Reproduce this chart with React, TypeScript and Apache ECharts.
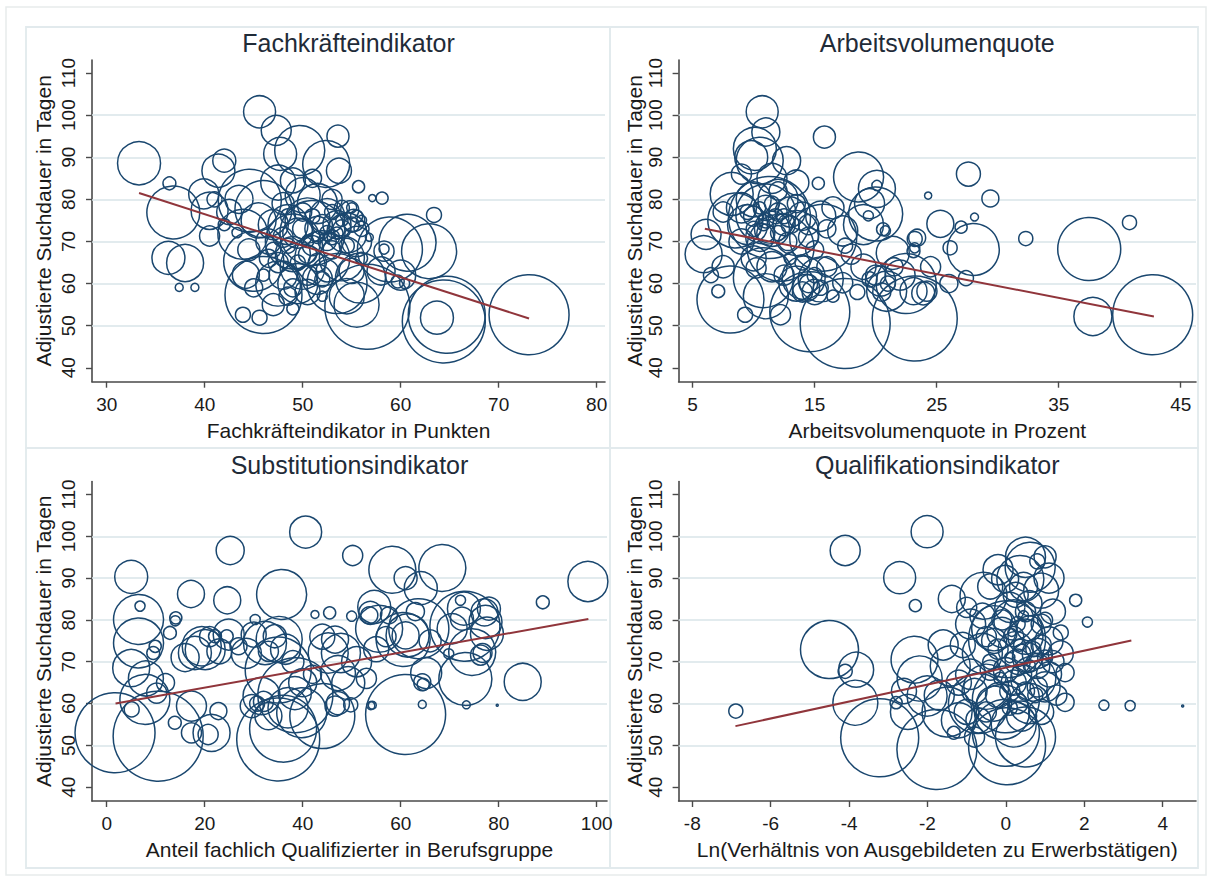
import React, { useEffect, useRef } from "react";
import * as echarts from "echarts";

// [x, adjustierte Suchdauer in Tagen, Gewicht der Berufsgruppe]
type Punkt = [number, number, number];

const suchdauerTicks = [40, 50, 60, 70, 80, 90, 100, 110];
const gitterWerte = [50, 60, 70, 80, 90, 100];

const fachkraefteTicks = [30, 40, 50, 60, 70, 80];
const arbeitsvolumenTicks = [5, 15, 25, 35, 45];
const substitutionTicks = [0, 20, 40, 60, 80, 100];
const qualifikationTicks = [-8, -6, -4, -2, 0, 2, 4];

const fachkraefteDaten: Punkt[] = [
  [33.3, 88.6, 28.9], [36.4, 83.8, 2.6], [36.8, 76.9, 43.9], [36.3, 66.1, 17.0], [38.0, 64.9, 21.4],
  [37.4, 59.1, 1.0], [39.0, 59.1, 1.0], [42.0, 89.2, 8.3], [41.4, 86.8, 17.0], [39.9, 81.3, 14.1],
  [40.5, 77.3, 21.4], [40.5, 71.3, 6.3], [43.3, 72.1, 1.6], [45.6, 100.8, 16.0], [47.3, 96.4, 14.1],
  [47.7, 90.8, 17.0], [49.7, 91.6, 39.1], [53.6, 95.0, 7.6], [52.4, 88.4, 34.5], [53.7, 86.8, 9.8],
  [44.6, 79.7, 62.0], [46.0, 77.7, 50.8], [43.9, 71.7, 39.1], [45.0, 65.3, 56.3], [46.0, 57.3, 92.6],
  [43.9, 52.6, 3.5], [45.6, 51.9, 3.5], [44.2, 62.1, 11.4], [73.1, 52.6, 100], [64.4, 51.0, 107.6],
  [64.7, 52.6, 92.6], [63.7, 51.9, 17.0], [63.4, 76.3, 3.5], [62.9, 67.7, 47.3], [60.7, 69.7, 50.8],
  [56.6, 54.5, 112.9], [58.3, 67.7, 6.3], [58.3, 68.2, 1.6], [59.7, 60.5, 2.6], [55.7, 83.0, 2.3],
  [58.1, 80.3, 2.3], [57.1, 80.3, 0.8], [58.9, 68.1, 66.0], [55.9, 61.3, 39.1], [60.4, 60.0, 1.6],
  [48.5, 74, 25.0], [49.5, 72, 14.1], [50.5, 75, 31.6], [51.5, 73, 9.8], [52.5, 76, 19.1],
  [53.5, 74, 12.3], [54.5, 72, 25.0], [55.2, 75, 7.6], [54.8, 77.5, 5.1], [53.0, 71, 3.5],
  [51.0, 69, 6.3], [49.0, 67, 19.1], [50.0, 64, 31.6], [48.0, 62, 12.3], [49.5, 60, 25.0],
  [51.5, 61, 14.1], [52.5, 63, 7.6], [50.5, 58, 9.8], [48.5, 57, 5.1], [47.5, 65, 6.3],
  [46.5, 70, 9.8], [47.0, 74, 14.1], [48.0, 79, 7.6], [50.0, 81, 19.1], [51.5, 79, 25.0],
  [53.0, 80, 6.3], [55.5, 70, 14.1], [54.0, 66, 31.6], [52.0, 66, 47.3], [53.5, 60, 56.3],
  [55.0, 63, 9.8], [49.0, 70, 47.3], [51.0, 72, 66.0], [47.5, 60, 31.6], [45.5, 75, 19.1],
  [44.5, 68, 7.6], [46.0, 62, 2.3], [45.0, 59, 5.1], [47.0, 55, 7.6], [49.0, 54, 2.3],
  [52.0, 57, 1.6], [54.5, 57, 19.1], [56.0, 73, 3.5], [55.0, 78, 1.6], [50.5, 70, 2.3],
  [48.5, 76, 3.5], [52.5, 70, 5.1], [54.0, 75, 2.3], [42.5, 77, 9.8], [41.0, 80, 3.5],
  [43.5, 80, 12.3], [42.0, 74, 2.3], [47.5, 84, 19.1], [49.0, 84.5, 9.8], [51.0, 85, 5.1],
  [56.8, 71, 1.0], [56.0, 66, 2.3], [58.0, 63, 12.3], [60.0, 62, 14.1], [55.5, 55, 31.6],
  [50.0, 73, 6.3], [51.0, 76, 3.5], [52.0, 74, 6.3], [53.0, 77, 3.5], [54.0, 73, 5.1],
  [55.0, 74, 3.5], [53.5, 72, 2.3], [52.5, 72, 3.5], [51.5, 71, 2.3], [50.5, 67, 5.1],
  [49.5, 65, 3.5], [48.5, 69, 3.5], [51.5, 65, 5.1], [52.0, 61, 3.5], [50.5, 62, 6.3],
  [49.0, 59, 5.1], [48.0, 71, 6.3], [47.0, 68, 3.5], [46.5, 66, 5.1], [53.0, 68, 5.1],
  [54.5, 69, 3.5], [55.5, 76, 2.3], [54.0, 78, 3.5], [56.0, 75, 1.6], [50.0, 77, 5.1],
];

const arbeitsvolumenDaten: Punkt[] = [
  [10.7, 100.8, 16.0], [11.0, 96.0, 12.3], [15.8, 94.8, 7.6], [10.1, 92.0, 28.9], [9.8, 90.0, 17.0],
  [12.7, 89.2, 12.3], [10.5, 89.2, 34.5], [18.6, 85.3, 39.1], [20.1, 82.5, 21.4], [20.1, 83.3, 1.6],
  [15.3, 83.8, 2.3], [24.3, 80.9, 0.8], [8.2, 81.3, 28.9], [6.1, 71.7, 14.1], [5.9, 67.0, 21.4],
  [8.1, 56.2, 70.1], [7.1, 58.2, 2.6], [9.3, 52.6, 3.5], [11.3, 75.7, 105], [11.0, 76.5, 56.3],
  [12.2, 68.5, 70.1], [10.2, 63.7, 6.3], [10.8, 61.4, 56.3], [12.2, 52.6, 6.3], [14.3, 59.0, 11.4],
  [14.1, 61.4, 28.9], [14.6, 53.3, 100], [17.5, 50.5, 126.6], [23.2, 51.7, 112.9], [37.5, 68.2, 62.0],
  [37.8, 52.2, 22.6], [42.7, 52.6, 100], [40.8, 74.5, 3.1], [32.3, 70.7, 3.1], [27.6, 86.0, 9.0],
  [29.4, 80.2, 4.5], [28.1, 75.8, 1.0], [25.3, 74.2, 11.4], [27.0, 73.4, 2.3], [28.0, 68.1, 42.3],
  [26.1, 68.5, 3.1], [27.4, 61.3, 3.5], [23.2, 70.6, 3.5], [23.2, 68.5, 1.6], [23.9, 57.7, 8.3],
  [19.5, 79.0, 14.1], [20.0, 76.5, 45.6], [20.8, 72.5, 1.6], [17.3, 60.2, 6.3], [20.4, 60.6, 14.1],
  [20.9, 58.2, 25.0], [23.1, 58.2, 11.4], [24.2, 58.2, 6.3], [15.7, 70.9, 70.1], [17.3, 72.5, 14.1],
  [20.6, 72.9, 2.6], [23.4, 70.9, 4.5], [23.1, 67.7, 2.6], [21.4, 67.3, 17.0], [19.0, 74.0, 25.0],
  [19.4, 76.1, 1.6], [9.0, 78, 14.1], [10.0, 80, 19.1], [11.0, 78, 9.8], [12.0, 80, 25.0],
  [13.0, 77, 14.1], [12.5, 74, 7.6], [11.5, 73, 19.1], [10.5, 71, 12.3], [9.5, 74, 25.0],
  [9.0, 70, 9.8], [13.5, 72, 31.6], [14.0, 76, 12.3], [11.8, 76, 3.5], [10.8, 74, 2.3],
  [12.8, 70, 5.1], [14.5, 74, 6.3], [15.5, 76, 14.1], [16.5, 78, 7.6], [16.0, 73, 5.1],
  [8.5, 75, 47.3], [7.5, 77, 6.3], [10.0, 66, 9.8], [11.5, 64, 14.1], [12.5, 62, 6.3],
  [13.5, 60, 19.1], [15.0, 58, 9.8], [15.5, 61, 31.6], [16.0, 64, 6.3], [14.0, 65, 3.5],
  [13.0, 66, 2.3], [12.0, 82, 5.1], [11.5, 85, 14.1], [13.5, 84, 9.8], [9.0, 86, 6.3],
  [18.0, 67, 6.3], [17.5, 69, 3.5], [19.0, 64, 9.8], [22.0, 62, 14.1], [21.5, 64, 5.1],
  [18.5, 58, 3.5], [16.5, 57, 2.3], [7.5, 64, 7.6], [6.5, 62, 3.5], [24.5, 64, 6.3],
  [26.0, 60, 5.1], [22.5, 60, 56.3], [11.0, 57, 31.6],
  [10.0, 76, 6.3], [11.0, 75, 3.5], [12.0, 77, 5.1], [11.5, 79, 3.5], [10.5, 78, 2.3],
  [12.5, 76, 3.5], [13.0, 74, 5.1], [11.0, 72, 5.1], [9.5, 77, 3.5], [12.0, 72, 3.5],
  [10.0, 73, 3.5], [13.5, 79, 5.1], [14.5, 71, 6.3], [15.0, 68, 5.1], [14.5, 60, 5.1],
  [15.5, 59, 3.5], [14.0, 58, 6.3], [15.0, 62, 3.5], [20.0, 62, 6.3], [21.0, 60, 3.5],
  [20.5, 58, 5.1], [19.5, 61, 3.5],
];

const substitutionDaten: Punkt[] = [
  [40.6, 101.0, 16.0], [25.2, 96.6, 12.3], [50.2, 95.4, 6.3], [5.0, 90.3, 17.0], [17.2, 86.2, 11.4],
  [24.6, 84.7, 11.4], [35.7, 86.1, 39.1], [6.5, 80.1, 39.1], [6.8, 83.3, 1.6], [14.1, 80.5, 2.3],
  [6.5, 74.5, 39.1], [5.0, 68.5, 21.4], [1.7, 53.0, 100], [10.5, 52.2, 126.6], [7.8, 61.0, 39.1],
  [5.1, 58.6, 3.5], [10.2, 62.5, 6.3], [9.5, 72.1, 2.6], [12.9, 76.9, 2.6], [13.9, 55.4, 2.6],
  [17.3, 59.4, 14.1], [17.3, 53.0, 6.3], [20.7, 52.6, 6.3], [21.4, 53.0, 21.4], [22.8, 58.2, 4.5],
  [20.1, 72.9, 25.0], [22.1, 76.1, 2.6], [24.5, 76.1, 2.6], [18.0, 72.1, 17.0], [26.9, 73.7, 4.5],
  [32.3, 74.5, 28.9], [34.3, 76.1, 8.3], [30.3, 80.1, 1.6], [42.5, 81.3, 1.0], [31.6, 61.8, 21.4],
  [29.6, 59.4, 8.3], [33.0, 57.0, 11.4], [35.0, 51.4, 107.6], [36.0, 54.0, 70.1], [39.8, 57.8, 39.1],
  [38.4, 62.5, 17.0], [45.2, 72.1, 25.0], [46.6, 75.3, 11.4], [46.6, 59.4, 6.3], [49.3, 64.9, 17.0],
  [50.0, 80.9, 1.6], [58.3, 92.0, 34.5], [68.5, 92.4, 34.5], [61.0, 90.0, 8.3], [64.1, 87.6, 17.0],
  [98.2, 89.2, 25.0], [89.0, 84.2, 2.6], [54.6, 83.1, 17.0], [72.9, 82.7, 17.0], [72.5, 80.3, 8.3],
  [72.2, 84.7, 1.6], [78.0, 82.7, 8.3], [77.6, 76.7, 17.0], [77.3, 79.5, 17.0], [76.3, 71.6, 6.3],
  [74.6, 72.3, 34.5], [70.5, 77.9, 14.1], [73.2, 65.9, 43.9], [73.4, 59.7, 1.0], [79.7, 59.6, 0.06],
  [84.9, 65.2, 21.4], [61.0, 57.4, 100], [64.4, 59.8, 1.0], [64.4, 65.1, 4.5], [54.2, 59.6, 1.0],
  [61.0, 76.3, 11.4], [61.4, 76.3, 28.9], [63.7, 77.9, 56.3], [55.6, 77.9, 34.5], [57.6, 81.1, 4.5],
  [53.6, 81.1, 4.5], [69.8, 71.9, 1.6], [65.2, 67.3, 15.0], [64.6, 64.6, 2.3], [76.7, 72.1, 5.6],
  [77.1, 81.8, 11.4], [73.1, 78.5, 76.6], [60.5, 75.3, 45.6], [45.5, 81.7, 2.3], [53.8, 81.7, 8.3],
  [47.8, 72.1, 23.8], [47.2, 67.3, 19.1], [47.2, 60.1, 8.3], [49.8, 59.7, 3.1], [53.9, 59.5, 1.0],
  [44.0, 57.0, 66.0], [35.2, 75.3, 33.1], [35.0, 68.0, 68.1], [38.5, 62.0, 87.9], [30.7, 60.0, 3.5],
  [24.9, 76.5, 15.0], [19.4, 73.7, 23.8], [9.9, 73.7, 2.3], [14.0, 79.8, 1.6], [28.5, 72.0, 14.1],
  [30.0, 76.5, 9.8], [33.0, 72.5, 6.3], [36.5, 73.0, 14.1], [38.0, 70.0, 7.6], [40.0, 65.0, 12.3],
  [42.0, 67.0, 5.1], [37.0, 59.0, 25.0], [32.0, 60.5, 6.3], [55.0, 73.0, 9.8], [57.0, 76.0, 6.3],
  [66.0, 75.0, 7.6], [63.0, 82.0, 5.1], [21.0, 76.0, 6.3], [23.0, 72.5, 9.8], [16.0, 71.0, 12.3],
  [8.0, 66.0, 19.1], [12.0, 65.0, 5.1], [44.0, 76.0, 9.8], [51.0, 70.0, 14.1], [53.0, 66.0, 6.3],
];

const qualifikationDaten: Punkt[] = [
  [-6.89, 58.2, 3.1], [-4.5, 72.9, 52.6], [-4.1, 67.7, 3.1], [-3.82, 68.1, 19.1], [-4.1, 96.6, 14.1],
  [-3.84, 60.2, 31.6], [-3.22, 51.8, 95.1], [-2.71, 90.1, 16.0], [-2.01, 101.1, 16.0], [-2.31, 83.4, 2.3],
  [-2.33, 70.5, 34.5], [-2.2, 66.0, 31.6], [-2.01, 61.8, 25.0], [-1.76, 49.0, 100], [0.03, 49.8, 92.6],
  [0.0, 53.0, 70.1], [0.03, 75.4, 92.6], [0.0, 61.0, 70.1], [-1.42, 69.0, 25.0], [-1.33, 53.0, 2.6],
  [1.78, 84.7, 2.3], [2.08, 79.5, 1.6], [2.5, 59.6, 1.6], [1.51, 60.3, 5.1], [1.51, 67.4, 5.1],
  [1.0, 95.1, 7.6], [0.62, 92.6, 39.1], [0.37, 89.8, 34.5], [-0.02, 89.8, 11.4], [-0.57, 85.8, 34.5],
  [-1.38, 85.0, 11.4], [3.17, 59.5, 1.6], [4.51, 59.4, 0.06], [-2.8, 60.2, 2.3], [-1.7, 62, 14.1],
  [-1.0, 58, 9.8], [-0.8, 52, 6.3], [-1.2, 56, 19.1], [-0.5, 64, 31.6], [-0.6, 72, 25.0],
  [-0.3, 78, 31.6], [0.2, 80, 25.0], [0.5, 76, 19.1], [0.8, 72, 14.1], [0.3, 70, 9.8],
  [-0.2, 73, 6.3], [0.1, 83, 14.1], [0.6, 84, 9.8], [0.9, 79, 6.3], [1.1, 75, 12.3],
  [1.2, 70, 7.6], [1.0, 64, 14.1], [0.6, 60, 25.0], [0.4, 57, 14.1], [0.1, 63, 6.3],
  [-0.3, 60, 19.1], [0.7, 66, 31.6], [-0.9, 67, 14.1], [-1.1, 74, 9.8], [-0.9, 79, 14.1],
  [0.25, 86, 9.8], [0.9, 87, 19.1], [0.5, 95, 25.0], [0.8, 94, 3.5], [-0.2, 92, 14.1],
  [1.3, 62, 6.3], [1.4, 77, 3.5], [-0.1, 58, 47.3], [0.2, 55, 31.6], [-1.5, 58, 39.1],
  [-2.5, 58, 19.1], [-0.7, 56, 9.8], [0.35, 74, 2.3], [0.1, 71, 1.6], [-0.4, 70, 3.5],
  [0.6, 69, 2.3], [0.15, 77, 1.0], [-0.15, 66, 2.3], [0.45, 81, 1.6], [0.75, 62, 3.5],
  [-1.6, 74, 14.1], [-1.0, 83, 6.3], [1.2, 82, 9.8], [-0.7, 60, 56.3], [0.5, 52, 56.3],
  [-2.6, 63, 9.8],
  [0.0, 68, 9.8], [0.4, 67, 6.3], [0.8, 69, 9.8], [-0.3, 75, 9.8], [0.2, 76, 6.3],
  [0.6, 78, 9.8], [0.9, 74, 6.3], [0.3, 79, 3.5], [-0.1, 80, 6.3], [0.5, 82, 6.3],
  [1.0, 80, 3.5], [0.7, 73, 3.5], [0.4, 72, 5.1], [-0.5, 76, 6.3], [-0.6, 81, 9.8],
  [-0.4, 68, 6.3], [0.2, 65, 9.8], [0.8, 64, 6.3], [1.1, 67, 9.8], [0.5, 63, 5.1],
  [-0.2, 62, 9.8], [0.3, 60, 6.3], [0.9, 58, 9.8], [0.1, 59, 3.5], [-0.5, 58, 6.3],
  [1.0, 71, 3.5], [0.25, 73, 19.1], [0.55, 71, 14.1], [-0.1, 77, 14.1], [0.45, 88, 12.3],
  [1.1, 90, 14.1], [-0.4, 88, 9.8], [1.4, 72, 9.8], [-0.8, 63, 9.8], [-1.2, 65, 9.8],
];

// Endpunkte der linearen Anpassung
const fachkraefteFit = [[33.3, 81.5], [73.1, 51.7]];
const arbeitsvolumenFit = [[6.0, 73.0], [42.8, 52.2]];
const substitutionFit = [[1.8, 60.0], [98.3, 80.2]];
const qualifikationFit = [[-6.9, 54.6], [3.2, 75.1]];

const FONT = '"Liberation Sans", Arial, Helvetica, sans-serif';
const NAVY = "#1a476f";
const MAROON = "#90353b";
const AXIS = "#4a4a4a";
const TEXT = "#1a1a1a";
const FRAME = "#e2eaed";

const panels = [
  {
    title: "Fachkräfteindikator", xName: "Fachkräfteindikator in Punkten",
    data: fachkraefteDaten, fit: fachkraefteFit, ticks: fachkraefteTicks,
    xMin: 28.5, xMax: 80.85, yGap: 38, grid: { left: 92, top: 60, width: 513, height: 321.7 },
  },
  {
    title: "Arbeitsvolumenquote", xName: "Arbeitsvolumenquote in Prozent",
    data: arbeitsvolumenDaten, fit: arbeitsvolumenFit, ticks: arbeitsvolumenTicks,
    xMin: 3.85, xMax: 46.25, yGap: 34, grid: { left: 678.6, top: 60, width: 517.4, height: 321.7 },
  },
  {
    title: "Substitutionsindikator", xName: "Anteil fachlich Qualifizierter in Berufsgruppe",
    data: substitutionDaten, fit: substitutionFit, ticks: substitutionTicks,
    xMin: -3.0, xMax: 102.1, yGap: 38, grid: { left: 92, top: 481.5, width: 515, height: 319.5 },
  },
  {
    title: "Qualifikationsindikator", xName: "Ln(Verhältnis von Ausgebildeten zu Erwerbstätigen)",
    data: qualifikationDaten, fit: qualifikationFit, ticks: qualifikationTicks,
    xMin: -8.35, xMax: 4.85, yGap: 34, grid: { left: 678.6, top: 481.5, width: 517.4, height: 319.5 },
  },
];

const App: React.FC = () => {
  const chartRef = useRef<HTMLDivElement | null>(null);

  useEffect(() => {
    if (!chartRef.current) return;
    const chart = echarts.init(chartRef.current, null, { renderer: "svg" });

    const option: any = {
      animation: false,
      backgroundColor: "#ffffff",
      textStyle: { fontFamily: FONT },
      grid: panels.map((p) => ({ ...p.grid, containLabel: false })),
      xAxis: panels.map((p, i) => ({
        type: "value",
        gridIndex: i,
        min: p.xMin,
        max: p.xMax,
        name: p.xName,
        nameLocation: "middle",
        nameGap: 38,
        nameTextStyle: { fontSize: 21, color: TEXT, fontFamily: FONT },
        axisLine: { show: true, onZero: false, lineStyle: { color: AXIS, width: 1.6 } },
        axisTick: { show: true, length: 6, customValues: p.ticks, lineStyle: { color: AXIS, width: 1.4 } },
        axisLabel: { customValues: p.ticks, margin: 13, fontSize: 19, color: TEXT, fontFamily: FONT },
        splitLine: { show: false },
      })),
      yAxis: panels.map((p, i) => ({
        type: "value",
        gridIndex: i,
        min: 36.7,
        max: 113.1,
        name: "Adjustierte Suchdauer in Tagen",
        nameLocation: "middle",
        nameRotate: 90,
        nameGap: p.yGap,
        nameTextStyle: { fontSize: 21, color: TEXT, fontFamily: FONT },
        axisLine: { show: true, onZero: false, lineStyle: { color: AXIS, width: 1.6 } },
        axisTick: { show: true, length: 6, customValues: suchdauerTicks, lineStyle: { color: AXIS, width: 1.4 } },
        axisLabel: { customValues: suchdauerTicks, rotate: 90, margin: 14, fontSize: 19, color: TEXT, fontFamily: FONT },
        splitLine: { show: false },
      })),
      series: panels.flatMap((p, i) => [
        {
          // horizontale Gitterlinien unter den Kreisen
          type: "line",
          xAxisIndex: i,
          yAxisIndex: i,
          data: [],
          silent: true,
          z: 1,
          markLine: {
            silent: true,
            z: 1,
            symbol: ["none", "none"],
            label: { show: false },
            emphasis: { disabled: true },
            lineStyle: { color: "#d9e4e9", width: 1.6, type: "solid", opacity: 1 },
            data: gitterWerte.map((v) => ({ yAxis: v })),
          },
        },
        {
          type: "scatter",
          xAxisIndex: i,
          yAxisIndex: i,
          data: p.data,
          symbol: "circle",
          symbolSize: (v: number[]) => 8 * Math.sqrt(v[2]),
          itemStyle: { color: "rgba(0,0,0,0)", borderColor: NAVY, borderWidth: 1.5, opacity: 1 },
          clip: false,
          silent: true,
          emphasis: { disabled: true },
          z: 2,
        },
        {
          type: "line",
          xAxisIndex: i,
          yAxisIndex: i,
          data: p.fit,
          showSymbol: false,
          symbol: "none",
          silent: true,
          z: 3,
          lineStyle: { color: MAROON, width: 2 },
        },
      ]),
      graphic: [
        { type: "rect", silent: true, shape: { x: 6, y: 7, width: 1200, height: 868 }, style: { fill: "none", stroke: "#e7ebec", lineWidth: 1.5 }, z: 0 },
        { type: "rect", silent: true, shape: { x: 26, y: 27, width: 584, height: 421 }, style: { fill: "none", stroke: FRAME, lineWidth: 1.8 }, z: 0 },
        { type: "rect", silent: true, shape: { x: 610, y: 27, width: 588, height: 421 }, style: { fill: "none", stroke: FRAME, lineWidth: 1.8 }, z: 0 },
        { type: "rect", silent: true, shape: { x: 26, y: 448, width: 584, height: 420 }, style: { fill: "none", stroke: FRAME, lineWidth: 1.8 }, z: 0 },
        { type: "rect", silent: true, shape: { x: 610, y: 448, width: 588, height: 420 }, style: { fill: "none", stroke: FRAME, lineWidth: 1.8 }, z: 0 },
        ...panels.map((p) => ({
          type: "text",
          silent: true,
          x: p.grid.left + p.grid.width / 2,
          y: p.grid.top - 17,
          style: {
            text: p.title,
            fontSize: 25,
            fontFamily: FONT,
            fill: "#1f2b38",
            textAlign: "center",
            textVerticalAlign: "middle",
          },
        })),
      ],
    };

    chart.setOption(option);
    return () => chart.dispose();
  }, []);

  return (
    <div
      ref={chartRef}
      style={{ position: "absolute", left: 0, top: 0, width: 1212, height: 880, background: "#fff" }}
    />
  );
};

export default App;
